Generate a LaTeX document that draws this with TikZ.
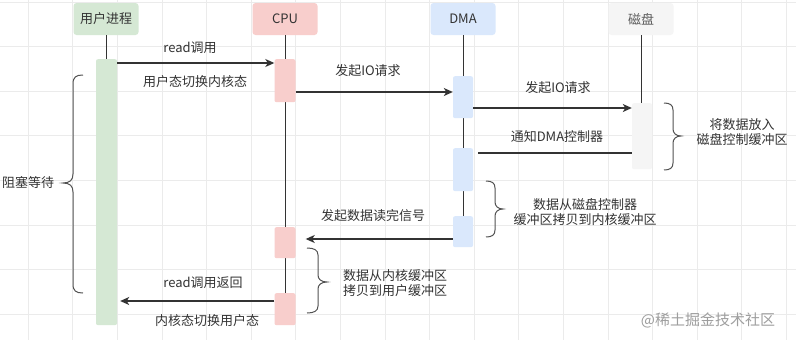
\documentclass[tikz,border=0pt]{standalone}
\usepackage{fontspec}
\setmainfont{Noto Sans CJK SC}
\usetikzlibrary{arrows.meta}
\definecolor{ugreen}{HTML}{D5E8D4}
\definecolor{cred}{HTML}{F8CECC}
\definecolor{dblue}{HTML}{DAE8FC}
\definecolor{kgray}{HTML}{F5F5F5}
\definecolor{txt}{HTML}{333333}
\definecolor{gridc}{HTML}{EBEBEB}
\tikzset{
  head/.style={rounded corners=3pt, minimum width=65pt, minimum height=32pt, inner sep=0pt, font=\fontsize{13}{15}\selectfont, text=txt},
  bar/.style={rounded corners=2pt, minimum width=21pt, inner sep=0pt, anchor=north},
  life/.style={draw=txt, line width=1pt},
  arr/.style={draw=txt, line width=1.2pt, -{Stealth[length=9pt,width=8pt,inset=2.5pt]}},
  plain/.style={draw=txt, line width=1.2pt},
  lbl/.style={font=\fontsize{13}{15}\selectfont, text=txt, inner sep=0pt},
  brc/.style={draw=txt!85, line width=1pt},
}
\begin{document}
\begin{tikzpicture}[x=1pt,y=-1pt]
\useasboundingbox (0,0) rectangle (796,340);
\fill[white] (0,0) rectangle (796,340);
% grid
\foreach \k in {0,...,17} \draw[gridc, line width=0.8pt] ({28.2+\k*44.6},0) -- ({28.2+\k*44.6},340);
\foreach \k in {0,...,7} \draw[gridc, line width=0.8pt] (0,{2+\k*44.6}) -- (796,{2+\k*44.6});
% headers
\node[head, fill=ugreen] (hu) at (106,19) {用户进程};
\node[head, fill=cred] (hc) at (285,19) {CPU};
\node[head, fill=dblue] (hd) at (463,19) {DMA};
\node[head, fill=kgray, text=txt!80] (hk) at (641,19) {磁盘};
% lifelines
\coordinate (ue) at (106,59);
\coordinate (ce) at (285,293);
\coordinate (de) at (463,216);
\coordinate (ke) at (641,103);
\draw[life] (hu.south) -- (ue);
\draw[life] (hc.south) -- (ce);
\draw[life] (hd.south) -- (de);
\draw[life] (hk.south) -- (ke);
% activation bars
\node[bar, fill=ugreen, minimum height=266pt] (ub) at (106.5,59) {};
\node[bar, fill=cred, minimum height=43pt] (cb1) at (285,59) {};
\node[bar, fill=cred, minimum height=31pt] (cb2) at (285,227) {};
\node[bar, fill=cred, minimum height=32pt] (cb3) at (285,293) {};
\node[bar, fill=dblue, minimum height=42pt, minimum width=20pt] (db1) at (463,76) {};
\node[bar, fill=dblue, minimum height=43pt, minimum width=20pt] (db2) at (463,148) {};
\node[bar, fill=dblue, minimum height=31pt, minimum width=20pt] (db3) at (463,216) {};
\node[bar, fill=kgray, minimum height=66pt, minimum width=20pt] (kb) at (642,103) {};
% messages
\draw[arr] (ub.east |- 0,63) -- (cb1.west |- 0,63);
\draw[arr] (cb1.east |- 0,92) -- (db1.west |- 0,92);
\draw[arr] (db1.east |- 0,108) -- (kb.west |- 0,108);
\coordinate (n1) at (478,153);
\draw[plain] (kb.west |- n1) -- (n1);
\draw[arr] (db3.west |- 0,239) -- ([xshift=10pt]cb2.east |- 0,239);
\draw[arr] (cb3.west |- 0,301) -- ([xshift=3pt]ub.east |- 0,301);
% labels
\node[lbl] (l1) at (190,48) {read调用};
\node[lbl] (l2) at (195,82) {用户态切换内核态};
\node[lbl] (l3) at (368,71) {发起IO请求};
\node[lbl] (l4) at (558,88) {发起IO请求};
\node[lbl] (l5) at (557,137) {通知DMA控制器};
\node[lbl] (l6) at (373,216) {发起数据读完信号};
\node[lbl] (l7) at (203,283) {read调用返回};
\node[lbl] (l8) at (207,321) {内核态切换用户态};
\node[lbl] (l9) at (28,183) {阻塞等待};
\node[lbl, align=center] (l10) at (742,132) {将数据放入\\磁盘控制缓冲区};
\node[lbl, align=center] (l11) at (585,212) {数据从磁盘控制器\\缓冲区拷贝到内核缓冲区};
\node[lbl, align=left, anchor=west] (l12) at (343,283) {数据从内核缓冲区\\拷贝到用户缓冲区};
% braces
\draw[brc] (83,75) .. controls (76,75) and (73,77) .. (73,84) -- (73,174)
  .. controls (73,180) and (70,183) .. (63,183) .. controls (70,183) and (73,186) .. (73,192)
  -- (73,284) .. controls (73,291) and (76,293) .. (83,293);
\draw[brc] (664,103) .. controls (670,103) and (673,105) .. (673,110) -- (673,129)
  .. controls (673,133) and (676,136) .. (681,136) .. controls (676,136) and (673,139) .. (673,143)
  -- (673,163) .. controls (673,168) and (670,170) .. (664,170);
\draw[brc] (486,181) .. controls (492,181) and (495,183) .. (495,188) -- (495,202)
  .. controls (495,206) and (498,209) .. (503,209) .. controls (498,209) and (495,212) .. (495,216)
  -- (495,230) .. controls (495,235) and (492,237) .. (486,237);
\draw[brc] (307,248) .. controls (314,248) and (318,250) .. (318,255) -- (318,275)
  .. controls (318,279) and (321,282) .. (327,282) .. controls (321,282) and (318,285) .. (318,289)
  -- (318,306) .. controls (318,311) and (314,313) .. (307,313);
% watermark
\node[font=\fontsize{15}{17}\selectfont, text=black!38, inner sep=0pt] (wm) at (708,320) {@稀土掘金技术社区};
\end{tikzpicture}
\end{document}
